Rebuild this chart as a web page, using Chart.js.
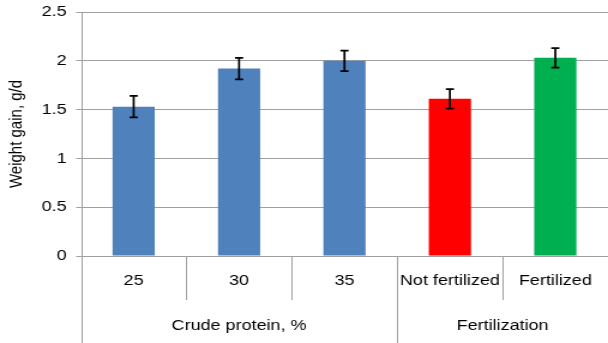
<!DOCTYPE html>
<html>
<head>
<meta charset="utf-8">
<script src="https://cdn.jsdelivr.net/npm/chart.js@4"></script>
<style>
  html, body { margin: 0; padding: 0; background: #fff; overflow: hidden; }
  /* the reference is stretched horizontally, so draw narrow and stretch */
  #wrap { width: 507px; height: 343px; transform: scaleX(1.1992); transform-origin: 0 0; }
</style>
</head>
<body>
<div id="wrap"><canvas id="chart" width="507" height="343"></canvas></div>
<script>
// data
const categories = ['25', '30', '35', 'Not fertilized', 'Fertilized'];
const groupLabels = ['Crude protein, %', 'Fertilization'];
const groupSizes = [3, 2];
const weightGain = [1.53, 1.92, 2.00, 1.61, 2.03];
const errorBars = [0.11, 0.11, 0.105, 0.10, 0.10];
const barColors = ['#4f81bd', '#4f81bd', '#4f81bd', '#ff0000', '#00b050'];
const yMin = 0, yMax = 2.5, yStep = 0.5;

const gridColor = '#a0a0a0';
const fontFamily = 'Arial, "Liberation Sans", sans-serif';

// error bars on top of each bar
const errorBarPlugin = {
  id: 'errorBars',
  afterDatasetsDraw(chart) {
    const ctx = chart.ctx;
    const y = chart.scales.y;
    const meta = chart.getDatasetMeta(0);
    ctx.save();
    ctx.strokeStyle = '#000';
    ctx.lineWidth = 1.7;
    meta.data.forEach((bar, i) => {
      const top = y.getPixelForValue(weightGain[i] + errorBars[i]);
      const bot = y.getPixelForValue(weightGain[i] - errorBars[i]);
      const cap = 3.4;
      ctx.beginPath();
      ctx.moveTo(bar.x, top); ctx.lineTo(bar.x, bot);
      ctx.moveTo(bar.x - cap, top); ctx.lineTo(bar.x + cap, top);
      ctx.moveTo(bar.x - cap, bot); ctx.lineTo(bar.x + cap, bot);
      ctx.stroke();
    });
    ctx.restore();
  }
};

// two level category axis: separators and group labels
const groupAxisPlugin = {
  id: 'groupAxis',
  afterDraw(chart) {
    const ctx = chart.ctx;
    const x = chart.scales.x;
    const area = chart.chartArea;
    const H = chart.height;
    const half = (x.getPixelForValue(1) - x.getPixelForValue(0)) / 2;
    ctx.save();
    ctx.strokeStyle = gridColor;
    ctx.lineWidth = 1;
    // left axis line down to the bottom
    ctx.beginPath();
    ctx.moveTo(Math.round(area.left) + 0.5, area.top);
    ctx.lineTo(Math.round(area.left) + 0.5, H);
    ctx.stroke();
    let start = 0;
    groupSizes.forEach((size, g) => {
      const end = start + size - 1;
      // short separators inside the group
      for (let i = start; i < end; i++) {
        const px = Math.round(x.getPixelForValue(i) + half) + 0.5;
        ctx.beginPath();
        ctx.moveTo(px, area.bottom);
        ctx.lineTo(px, area.bottom + 44);
        ctx.stroke();
      }
      // long separator after the group
      if (g < groupSizes.length - 1) {
        const px = Math.round(x.getPixelForValue(end) + half) + 0.5;
        ctx.beginPath();
        ctx.moveTo(px, area.bottom);
        ctx.lineTo(px, H);
        ctx.stroke();
      }
      const cx = (x.getPixelForValue(start) + x.getPixelForValue(end)) / 2;
      ctx.fillStyle = '#000';
      ctx.font = '15px ' + fontFamily;
      ctx.textAlign = 'center';
      ctx.textBaseline = 'middle';
      ctx.fillText(groupLabels[g], cx, area.bottom + 70);
      start += size;
    });
    ctx.restore();
  }
};

new Chart(document.getElementById('chart'), {
  type: 'bar',
  data: {
    labels: categories,
    datasets: [{
      data: weightGain,
      backgroundColor: barColors,
      barPercentage: 0.4,
      categoryPercentage: 1.0
    }]
  },
  options: {
    responsive: false,
    animation: false,
    layout: { padding: { top: 12, right: 0, left: 0, bottom: 0 } },
    plugins: {
      legend: { display: false },
      tooltip: { enabled: false }
    },
    scales: {
      x: {
        offset: true,
        grid: { display: false, drawTicks: false },
        border: { display: false },
        ticks: {
          color: '#000',
          font: { family: fontFamily, size: 15 },
          padding: 16,
          maxRotation: 0,
          autoSkip: false
        },
        afterFit(scale) {
          scale.height = 87;
          scale.paddingLeft = 0;
          scale.paddingRight = 0;
        }
      },
      y: {
        min: yMin,
        max: yMax,
        grid: { color: gridColor, tickLength: 4, lineWidth: 1 },
        border: { display: false },
        ticks: {
          stepSize: yStep,
          color: '#000',
          font: { family: fontFamily, size: 15 },
          padding: 8,
          callback: (v) => String(Math.round(v * 10) / 10)
        },
        title: {
          display: true,
          text: 'Weight gain, g/d',
          color: '#000',
          font: { family: fontFamily, size: 15 },
          padding: { top: 5, bottom: 0 }
        },
        afterFit(scale) {
          scale.width = 67.5;
          scale.paddingTop = 0;
          scale.paddingBottom = 0;
        }
      }
    }
  },
  plugins: [errorBarPlugin, groupAxisPlugin]
});
</script>
</body>
</html>
